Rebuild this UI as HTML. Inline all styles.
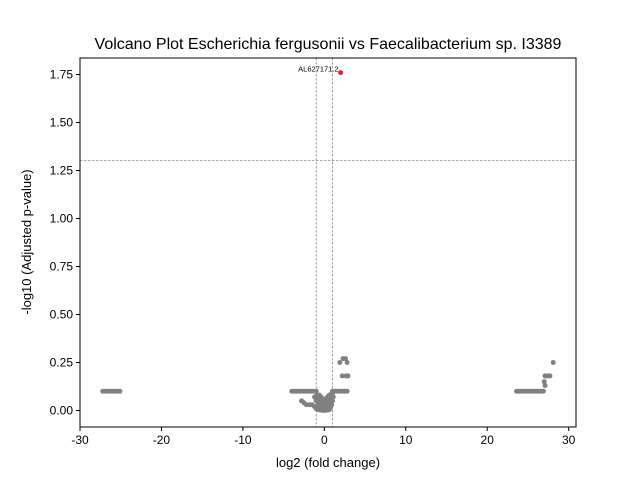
<!DOCTYPE html>
<html><head><meta charset="utf-8"><style>
body{margin:0;background:#fff;}
svg{display:block;font-family:"Liberation Sans",sans-serif;}
</style></head><body>
<svg id="chart" width="640" height="480">
<rect x="0" y="0" width="640" height="480" fill="#fff"/>
<text x="328" y="49" font-size="16" text-anchor="middle">Volcano Plot Escherichia fergusonii vs Faecalibacterium sp. I3389</text>
<g id="grid"></g>
<g id="points"></g>
<g id="axes"></g>
<text x="328" y="467" font-size="13" text-anchor="middle">log2 (fold change)</text>
<text x="31" y="242" font-size="13" text-anchor="middle" transform="rotate(-90 31 242)">-log10 (Adjusted p-value)</text>
</svg>
<script>
const xTicks=[-30,-20,-10,0,10,20,30];
const yTicks=[0,0.25,0.5,0.75,1.0,1.25,1.5,1.75];
const grayFC=[-27.2,-26.9,-26.6,-26.3,-26.0,-25.7,-25.4,-25.1,
-4.0,-3.7,-3.4,-3.1,-2.8,-2.5,-2.2,-1.9,-1.6,-1.3,-1.0,1.0,1.3,1.6,1.9,2.2,2.5,2.8,
-2.8,-2.5,-2.2,-1.8,-1.5,-1.2,-1.1,-1.0,-0.9,-0.8,-0.7,-0.6,-0.5,-0.4,-0.3,-0.2,-0.1,0,0.1,0.2,0.3,0.4,0.5,0.6,0.7,0.8,0.9,1.0,1.1,
-0.9,-0.8,-0.7,0.7,0.8,0.9,1.0,-0.6,0.6,-0.5,0.5,
-0.8,-0.6,-0.4,-0.2,0,0.2,0.4,0.6,-0.7,-0.5,-0.3,-0.1,0.1,0.3,0.5,0.7,-0.6,-0.4,-0.2,0,0.2,0.4,0.6,-1.2,-1.0,0.9,
1.9,2.3,2.6,2.8,2.2,2.7,2.9,
23.6,23.9,24.2,24.5,24.8,25.1,25.4,25.7,26.0,26.3,26.6,26.9,
27.1,27.4,27.7,27.0,27.1,28.1];
const grayP=[0.10,0.10,0.10,0.10,0.10,0.10,0.10,0.10,
0.10,0.10,0.10,0.10,0.10,0.10,0.10,0.10,0.10,0.10,0.10,0.10,0.10,0.10,0.10,0.10,0.10,0.10,
0.05,0.04,0.03,0.03,0.03,0.02,0.02,0.01,0.01,0.005,0.005,0.003,0.003,0.002,0.002,0.002,0.001,0.001,0.001,0.002,0.002,0.003,0.004,0.005,0.01,0.02,0.03,0.05,0.07,
0.08,0.06,0.04,0.04,0.06,0.08,0.09,0.07,0.03,0.05,0.02,
0.02,0.02,0.02,0.02,0.02,0.02,0.02,0.02,0.05,0.04,0.04,0.04,0.04,0.04,0.04,0.06,0.08,0.07,0.06,0.06,0.06,0.07,0.08,0.07,0.05,0.09,
0.25,0.27,0.27,0.25,0.18,0.18,0.18,
0.10,0.10,0.10,0.10,0.10,0.10,0.10,0.10,0.10,0.10,0.10,0.10,
0.18,0.18,0.18,0.15,0.13,0.25];
const sigFC=[2.0];
const sigP=[1.76];
const sigLabels=["AL627171.2"];
const X0=80,X1=576,Y0=58,Y1=427,xmin=-30,xmax=30.9,ymin=-0.086,ymax=1.836;
const sx=v=>X0+(v-xmin)/(xmax-xmin)*(X1-X0);
const sy=v=>Y1-(v-ymin)/(ymax-ymin)*(Y1-Y0);
const NS="http://www.w3.org/2000/svg";
function mk(t,a,p){const e=document.createElementNS(NS,t);for(const k in a)e.setAttribute(k,a[k]);p.appendChild(e);return e;}
const grid=document.getElementById('grid'),pts=document.getElementById('points'),axes=document.getElementById('axes');
let l=mk('line',{x1:X0,x2:X1,y1:sy(1.30103),y2:sy(1.30103),stroke:'#777','stroke-width':0.7,'stroke-dasharray':'2.5,1.5'},grid);


[-1,1].forEach(v=>{const e=mk('line',{x1:sx(v),x2:sx(v),y1:Y0,y2:Y1,stroke:'#777','stroke-width':0.7,'stroke-dasharray':'2.5,1.5'},grid);

});
grayFC.forEach((v,i)=>{const c=mk('circle',{cx:sx(v),cy:sy(grayP[i]),r:2.5,fill:'#808080'},pts);

});
sigFC.forEach((v,i)=>{const c=mk('circle',{cx:sx(v),cy:sy(sigP[i]),r:2.5,fill:'#e8242c'},pts);


const t=mk('text',{x:sx(v)-2,y:sy(sigP[i])-1,'font-size':7.5,'text-anchor':'end'},pts);t.textContent=sigLabels[i];

});
const fr=mk('rect',{x:X0,y:Y0,width:X1-X0,height:Y1-Y0,fill:'none',stroke:'#000','stroke-width':1},axes);


xTicks.forEach(v=>{const x=sx(v);mk('line',{x1:x,x2:x,y1:Y1,y2:Y1+4,stroke:'#000'},axes);
const t=mk('text',{x:x,y:Y1+17,'font-size':12,'text-anchor':'middle'},axes);t.textContent=v;

});
yTicks.forEach(v=>{const y=sy(v);mk('line',{x1:X0-4,x2:X0,y1:y,y2:y,stroke:'#000'},axes);
const t=mk('text',{x:X0-7,y:y+4,'font-size':12,'text-anchor':'end'},axes);t.textContent=v.toFixed(2);

});
</script>
</body></html>
